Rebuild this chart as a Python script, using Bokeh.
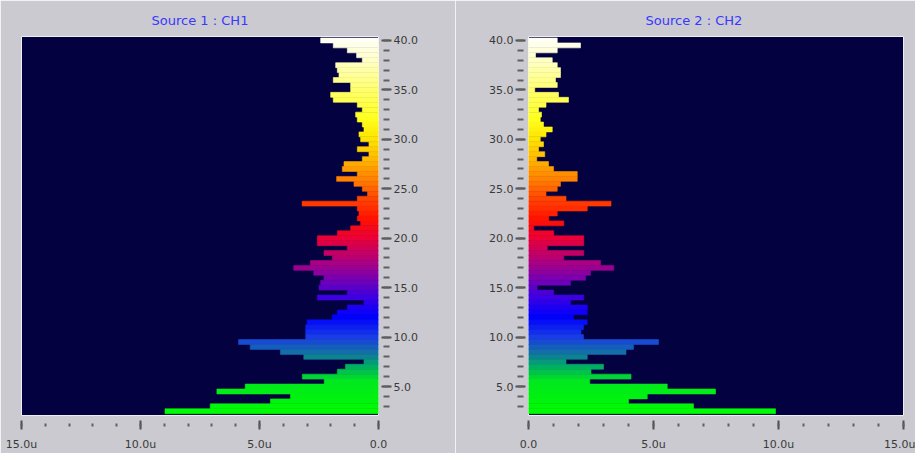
import numpy as np
from bokeh.plotting import figure
from bokeh.layouts import row
from bokeh.models import Range1d, FixedTicker, Title, ColumnDataSource
from bokeh.embed import file_html
from bokeh.resources import INLINE

# ---------------- data ----------------
bin_centers = [40.0, 39.5, 39.0, 38.5, 38.0, 37.5, 37.0, 36.5, 36.0, 35.5,
               35.0, 34.5, 34.0, 33.5, 33.0, 32.5, 32.0, 31.5, 31.0, 30.5,
               30.0, 29.5, 29.0, 28.5, 28.0, 27.5, 27.0, 26.5, 26.0, 25.5,
               25.0, 24.5, 24.0, 23.5, 23.0, 22.5, 22.0, 21.5, 21.0, 20.5,
               20.0, 19.5, 19.0, 18.5, 18.0, 17.5, 17.0, 16.5, 16.0, 15.5,
               15.0, 14.5, 14.0, 13.5, 13.0, 12.5, 12.0, 11.5, 11.0, 10.5,
               10.0, 9.5, 9.0, 8.5, 8.0, 7.5, 7.0, 6.5, 6.0, 5.5,
               5.0, 4.5, 4.0, 3.5, 3.0, 2.5]

ch1_values = [2.43, 1.90, 1.31, 0.92, 0.68, 1.80, 1.73, 1.66, 1.90, 1.17,
              1.17, 2.01, 1.90, 0.89, 0.68, 0.96, 0.89, 0.68, 0.61, 0.82,
              0.75, 0.40, 0.89, 0.40, 0.68, 1.45, 1.52, 0.89, 1.76, 1.03,
              0.68, 0.46, 0.89, 3.21, 0.89, 0.82, 0.89, 0.75, 1.17, 1.73,
              2.57, 2.57, 1.31, 2.29, 1.94, 2.86, 3.56, 2.72, 2.29, 2.43,
              2.50, 1.31, 2.57, 0.61, 1.31, 1.73, 1.94, 3.00, 3.06, 3.06,
              3.06, 5.88, 5.39, 4.12, 3.14, 0.61, 1.39, 1.73, 3.20, 2.28,
              5.60, 6.79, 3.70, 4.54, 7.07, 8.97]

ch2_values = [1.15, 2.08, 1.15, 0.28, 0.95, 1.15, 1.28, 1.28, 1.08, 1.15,
              0.25, 1.20, 1.60, 0.70, 0.40, 0.52, 0.47, 0.60, 0.95, 0.70,
              0.47, 0.60, 0.40, 0.65, 0.33, 0.80, 1.00, 1.95, 1.95, 1.28,
              1.15, 0.70, 1.50, 3.30, 2.35, 1.15, 0.81, 1.41, 0.21, 1.01,
              2.21, 2.21, 0.75, 2.21, 1.41, 2.88, 3.41, 2.48, 2.28, 1.68,
              0.35, 1.00, 2.21, 1.68, 2.35, 2.35, 1.80, 2.35, 2.20, 2.10,
              2.20, 5.20, 4.20, 3.90, 2.35, 1.50, 3.00, 2.50, 4.10, 2.45,
              5.55, 7.48, 4.75, 4.00, 6.60, 9.88]

titles = ["Source 1 : CH1", "Source 2 : CH2"]

x_ticks = [0, 5, 10, 15]
x_tick_labels = ["0.0", "5.0u", "10.0u", "15.0u"]
y_ticks = [5, 10, 15, 20, 25, 30, 35, 40]
y_tick_labels = ["5.0", "10.0", "15.0", "20.0", "25.0", "30.0", "35.0", "40.0"]

# ---------------- styling helpers ----------------
cmap_pos = [2.0, 5.5, 7.0, 8.5, 10.0, 12.0, 14.0, 16.0, 18.0, 20.0,
            22.0, 24.0, 26.0, 28.0, 30.0, 32.0, 35.0, 38.0, 40.5]
cmap_rgb = [(0, 255, 0), (0, 232, 30), (0, 175, 100), (20, 110, 170), (25, 60, 230),
            (0, 0, 255), (60, 0, 225), (125, 0, 175), (185, 0, 115), (235, 0, 55),
            (255, 20, 0), (255, 70, 0), (255, 130, 0), (255, 185, 0), (255, 228, 0),
            (255, 255, 30), (255, 255, 110), (255, 255, 200), (255, 255, 255)]


def spectrum(v):
    r = np.interp(v, cmap_pos, [c[0] for c in cmap_rgb])
    g = np.interp(v, cmap_pos, [c[1] for c in cmap_rgb])
    b = np.interp(v, cmap_pos, [c[2] for c in cmap_rgb])
    return "#%02x%02x%02x" % (int(r), int(g), int(b))


colors = [spectrum(v) for v in bin_centers]

PANEL_BG = "#cacad0"
PLOT_BG = "#03013f"
TEXT_COL = "#3a3a3a"
FONT = "DejaVu Sans"


def make_panel(values, title, reversed_x, width, b_left, b_right,
               title_align, title_offset):
    xr = Range1d(15, 0) if reversed_x else Range1d(0, 15)
    p = figure(width=width, height=453, x_range=xr, y_range=Range1d(2.07, 40.4),
               output_backend="svg", toolbar_location=None,
               min_border_left=b_left, min_border_right=b_right,
               min_border_top=36, min_border_bottom=38,
               y_axis_location="right" if reversed_x else "left")
    p.background_fill_color = PLOT_BG
    p.border_fill_color = PANEL_BG
    p.outline_line_color = "#eeeeee"
    p.outline_line_width = 1
    p.grid.visible = False

    src = ColumnDataSource(dict(y=bin_centers, v=values, c=colors))
    p.hbar(y="y", left=0, right="v", height=0.5, source=src,
           fill_color="c", line_color="c", line_width=0.6)

    t = Title(text=title, align=title_align, text_color="#3838ff",
              text_font_size="13px", text_font_style="normal",
              text_font=FONT, offset=title_offset, standoff=17)
    p.add_layout(t, "above")

    # x axis
    xa = p.xaxis[0]
    xa.ticker = FixedTicker(ticks=x_ticks, minor_ticks=list(range(0, 16)))
    xa.major_label_overrides = {t_: l for t_, l in zip(x_ticks, x_tick_labels)}
    xa.axis_line_color = None
    xa.major_tick_in = -5
    xa.major_tick_out = 14
    xa.minor_tick_in = -8
    xa.minor_tick_out = 11
    xa.major_tick_line_color = "#505050"
    xa.minor_tick_line_color = "#606060"
    xa.major_tick_line_width = 2
    xa.minor_tick_line_width = 2
    xa.major_label_text_font = FONT
    xa.major_label_text_font_size = "11px"
    xa.major_label_text_color = TEXT_COL
    xa.major_label_standoff = 8

    # y axis
    ya = p.yaxis[0]
    ya.ticker = FixedTicker(ticks=y_ticks, minor_ticks=list(range(3, 41)))
    ya.major_label_overrides = {t_: l for t_, l in zip(y_ticks, y_tick_labels)}
    ya.axis_line_color = None
    ya.major_tick_in = -3
    ya.major_tick_out = 13
    ya.minor_tick_in = -5
    ya.minor_tick_out = 11
    ya.major_tick_line_color = "#505050"
    ya.minor_tick_line_color = "#606060"
    ya.major_tick_line_width = 2
    ya.minor_tick_line_width = 2
    ya.major_label_text_font = FONT
    ya.major_label_text_font_size = "11px"
    ya.major_label_text_color = TEXT_COL
    ya.major_label_standoff = 2
    return p


p1 = make_panel(ch1_values, titles[0], True, 455, 21, 77, "center", 0)
p2 = make_panel(ch2_values, titles[1], False, 460, 73, 12, "left", 117)

layout = row(p1, p2)
open("out.html", "w").write(file_html(layout, INLINE))
